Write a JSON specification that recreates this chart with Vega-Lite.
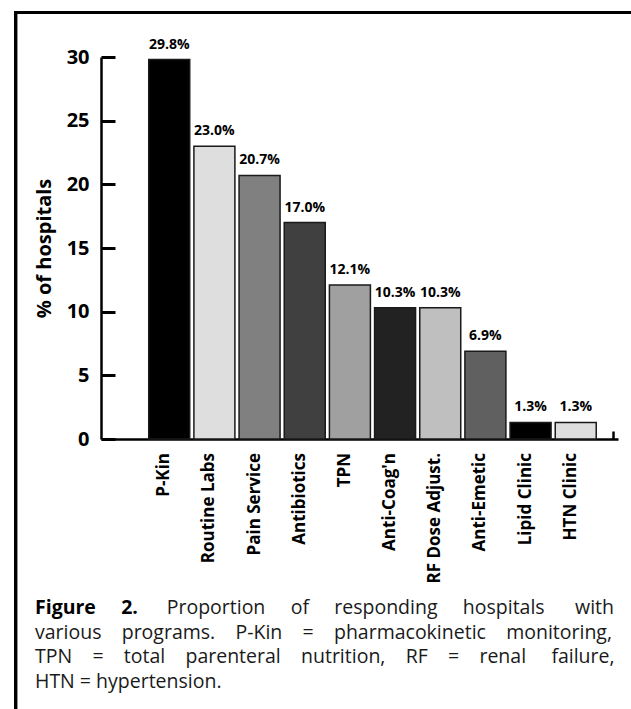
{
  "$schema": "https://vega.github.io/schema/vega-lite/v6.json",
  "width": 517,
  "height": 382,
  "autosize": {"type": "none"},
  "padding": {"left": 101, "top": 57, "right": 13, "bottom": 270},
  "background": "white",
  "config": {
    "view": {"stroke": null},
    "font": "Open Sans",
    "axis": {"grid": false}
  },
  "title": {
    "text": "Figure\u00a0\u00a0\u00a0\u00a0\u00a02.",
    "subtitle": [
      "\u200b\u00a0\u00a0\u00a0\u00a0\u00a0\u00a0\u00a0\u00a0\u00a0\u00a0\u00a0\u00a0\u00a0\u00a0\u00a0\u00a0\u00a0\u00a0\u00a0\u00a0\u00a0\u00a0\u00a0\u00a0\u00a0\u00a0Proportion\u00a0\u00a0\u00a0\u00a0\u00a0of\u00a0\u00a0\u00a0\u00a0\u00a0responding\u00a0\u00a0\u00a0\u00a0\u00a0hospitals\u00a0\u00a0\u00a0\u00a0\u00a0\u00a0with",
      "various\u00a0\u00a0\u00a0\u00a0programs.\u00a0\u00a0\u00a0\u00a0P-Kin\u00a0\u00a0\u00a0\u00a0=\u00a0\u00a0\u00a0\u00a0pharmacokinetic\u00a0\u00a0\u00a0\u00a0monitoring,",
      "TPN\u00a0\u00a0\u00a0\u00a0=\u00a0\u00a0\u00a0\u00a0total\u00a0\u00a0\u00a0\u00a0parenteral\u00a0\u00a0\u00a0\u00a0nutrition,\u00a0\u00a0\u00a0\u00a0RF\u00a0\u00a0\u00a0\u00a0=\u00a0\u00a0\u00a0\u00a0renal\u00a0\u00a0\u00a0\u00a0\u00a0failure,",
      "HTN = hypertension."
    ],
    "orient": "bottom",
    "anchor": "start",
    "frame": "group",
    "baseline": "alphabetic",
    "offset": -106,
    "dx": -66,
    "font": "Open Sans",
    "fontSize": 19.5,
    "fontWeight": "bold",
    "color": "#000000",
    "subtitleFont": "Open Sans",
    "subtitleFontSize": 19.5,
    "subtitleFontWeight": "normal",
    "subtitleColor": "#1a1a1a",
    "subtitleLineHeight": 24.5,
    "subtitlePadding": -19.5
  },
  "data": {
    "values": [
      {"rank": 1, "program": "P-Kin", "pct": 29.8},
      {"rank": 2, "program": "Routine Labs", "pct": 23.0},
      {"rank": 3, "program": "Pain Service", "pct": 20.7},
      {"rank": 4, "program": "Antibiotics", "pct": 17.0},
      {"rank": 5, "program": "TPN", "pct": 12.1},
      {"rank": 6, "program": "Anti-Coag'n", "pct": 10.3},
      {"rank": 7, "program": "RF Dose Adjust.", "pct": 10.3},
      {"rank": 8, "program": "Anti-Emetic", "pct": 6.9},
      {"rank": 9, "program": "Lipid Clinic", "pct": 1.3},
      {"rank": 10, "program": "HTN Clinic", "pct": 1.3}
    ]
  },
  "layer": [
    {
      "mark": {"type": "bar", "width": 41, "stroke": "#1a1a1a", "strokeWidth": 1.5},
      "encoding": {
        "x": {
          "field": "rank",
          "type": "quantitative",
          "scale": {"domain": [-0.4, 10.825], "nice": false, "zero": false},
          "axis": {
            "title": null,
            "labels": false,
            "values": [10.825],
            "tickSize": -8,
            "tickWidth": 2.5,
            "tickColor": "#000000",
            "domainColor": "#000000",
            "domainWidth": 2.5
          }
        },
        "y": {
          "field": "pct",
          "type": "quantitative",
          "scale": {"domain": [0, 30], "nice": false},
          "axis": {
            "title": "% of hospitals",
            "titleFont": "Open Sans",
            "titleFontSize": 20,
            "titleFontWeight": "bold",
            "titleColor": "#000000",
            "titlePadding": 12,
            "values": [0, 5, 10, 15, 20, 25, 30],
            "labelFont": "Open Sans",
            "labelFontSize": 20,
            "labelFontWeight": "bold",
            "labelColor": "#000000",
            "labelPadding": 26,
            "tickSize": -14,
            "tickWidth": 3,
            "tickColor": "#000000",
            "domainColor": "#000000",
            "domainWidth": 2.5
          }
        },
        "color": {
          "field": "program",
          "type": "nominal",
          "legend": null,
          "scale": {
            "domain": ["P-Kin", "Routine Labs", "Pain Service", "Antibiotics", "TPN", "Anti-Coag'n", "RF Dose Adjust.", "Anti-Emetic", "Lipid Clinic", "HTN Clinic"],
            "range": ["#000000", "#dedede", "#808080", "#404040", "#a0a0a0", "#222222", "#bfbfbf", "#606060", "#000000", "#dedede"]
          }
        }
      }
    },
    {
      "transform": [{"calculate": "format(datum.pct, '.1f') + '%'", "as": "label"}],
      "mark": {"type": "text", "baseline": "alphabetic", "align": "center", "dy": -11, "font": "Open Sans", "fontSize": 14, "fontWeight": "bold", "color": "#000000"},
      "encoding": {
        "x": {"field": "rank", "type": "quantitative"},
        "y": {"field": "pct", "type": "quantitative"},
        "text": {"field": "label"}
      }
    },
    {
      "mark": {"type": "text", "angle": 270, "align": "right", "baseline": "alphabetic", "dx": -14, "font": "Open Sans", "fontSize": 17, "fontWeight": "bold", "color": "#000000"},
      "encoding": {
        "x": {"field": "rank", "type": "quantitative"},
        "y": {"datum": 0},
        "text": {"field": "program"}
      }
    },
    {
      "mark": {"type": "rule", "stroke": "#000000", "strokeWidth": 2.5},
      "encoding": {
        "x": {"datum": -2.397},
        "x2": {"datum": 12},
        "y": {"datum": 33.5}
      }
    },
    {
      "mark": {"type": "rule", "stroke": "#000000", "strokeWidth": 2.5},
      "encoding": {
        "x": {"datum": -2.397},
        "y": {"datum": 33.6},
        "y2": {"datum": -22}
      }
    }
  ]
}
